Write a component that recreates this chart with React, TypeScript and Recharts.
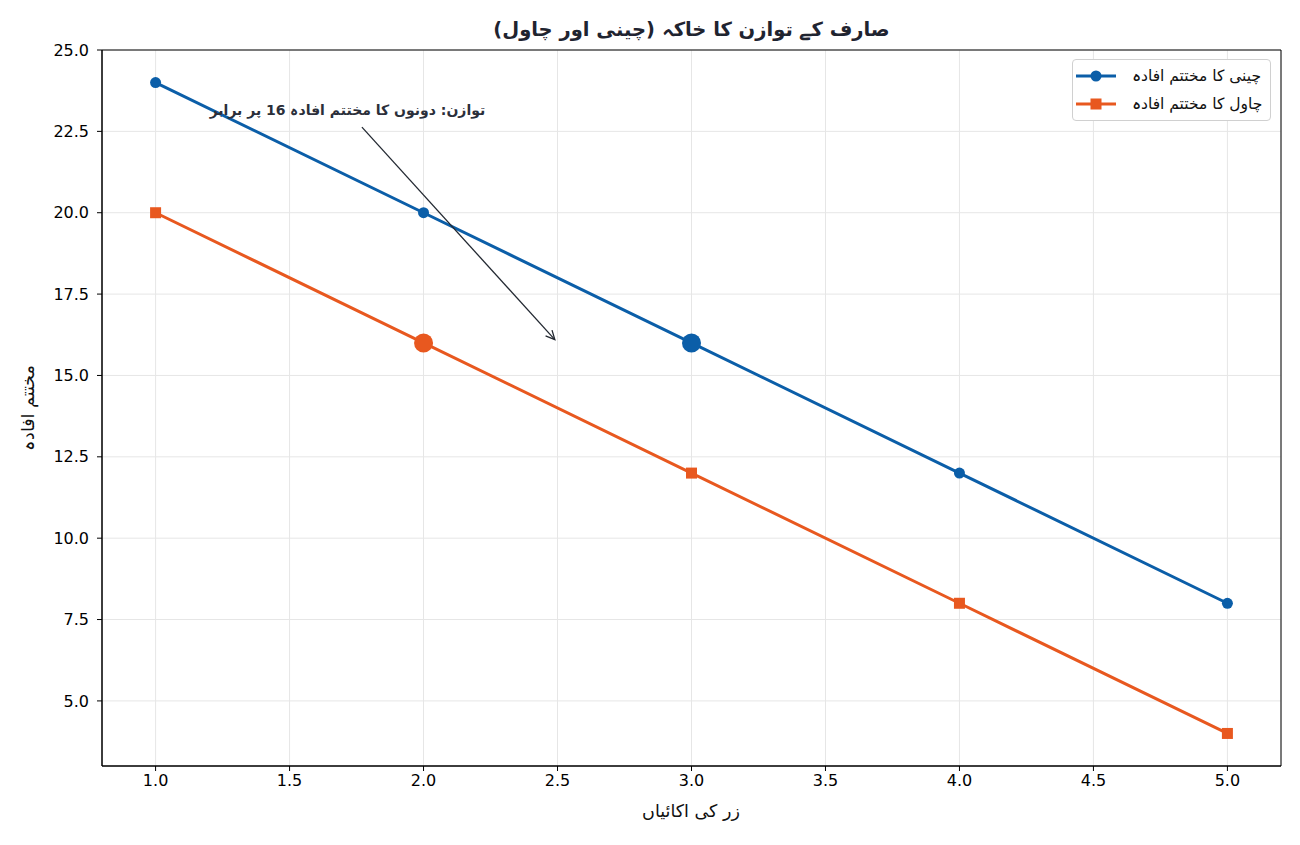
import {
  LineChart,
  Line,
  XAxis,
  YAxis,
  CartesianGrid,
  ReferenceLine,
  ReferenceDot,
  ReferenceArea,
} from 'recharts';

const units = [1, 2, 3, 4, 5];
const sugarMU = [24, 20, 16, 12, 8];
const riceMU = [20, 16, 12, 8, 4];
const xTicks = [1.0, 1.5, 2.0, 2.5, 3.0, 3.5, 4.0, 4.5, 5.0];
const yTicks = [5.0, 7.5, 10.0, 12.5, 15.0, 17.5, 20.0, 22.5, 25.0];
const sugarEq = { x: 3, y: 16 };
const riceEq = { x: 2, y: 16 };

const BLUE = '#0b5ea8';
const ORANGE = '#e8581f';
const FONT = '"DejaVu Sans", sans-serif';

const data = units.map((u, i) => ({ u, sugar: sugarMU[i], rice: riceMU[i] }));

const seriesInfo = [
  { name: 'چینی کا مختتم افادہ', color: BLUE, shape: 'circle' },
  { name: 'چاول کا مختتم افادہ', color: ORANGE, shape: 'square' },
];

function LegendBox() {
  return (
    <div
      style={{
        position: 'absolute',
        left: 1072,
        top: 59,
        width: 197,
        height: 60,
        boxSizing: 'content-box',
        background: '#fff',
        border: '1px solid #d0d0d0',
        borderRadius: 4,
        fontFamily: FONT,
        fontSize: 15.5,
        color: '#111',
      }}
    >
      {seriesInfo.map((s, i) => (
        <div
          key={s.name}
          style={{ position: 'absolute', left: 3, top: 3 + i * 28, height: 26, display: 'flex', alignItems: 'center' }}
        >
          <svg width={40} height={14} style={{ marginRight: 16 }}>
            <line x1={0} y1={7} x2={40} y2={7} stroke={s.color} strokeWidth={3} />
            {s.shape === 'circle' ? (
              <circle cx={20} cy={7} r={5.5} fill={s.color} />
            ) : (
              <rect x={14.5} y={1.5} width={11} height={11} fill={s.color} />
            )}
          </svg>
          <span dir="rtl">{s.name}</span>
        </div>
      ))}
    </div>
  );
}

const SquareDot = (props: any) => {
  const { cx, cy } = props;
  return <rect x={cx - 5.5} y={cy - 5.5} width={11} height={11} fill={ORANGE} />;
};

const ArrowShape = (props: any) => {
  const { x1, y1, x2, y2 } = props;
  if (x1 == null) return null;
  const ang = Math.atan2(y2 - y1, x2 - x1);
  const len = 10;
  const a1 = ang + Math.PI - 0.45;
  const a2 = ang + Math.PI + 0.45;
  return (
    <g>
      <line x1={x1} y1={y1} x2={x2} y2={y2} stroke="#222831" strokeWidth={1.3} />
      <polyline
        points={`${x2 + len * Math.cos(a1)},${y2 + len * Math.sin(a1)} ${x2},${y2} ${x2 + len * Math.cos(a2)},${y2 + len * Math.sin(a2)}`}
        fill="none"
        stroke="#222831"
        strokeWidth={1.3}
      />
    </g>
  );
};

const AnnotText = (props: any) => (
  <text
    x={props.cx}
    y={props.cy}
    textAnchor="middle"
    dominantBaseline="central"
    fontFamily={FONT}
    fontSize={14}
    fontWeight={700}
    fill="#2b2f3a"
  >
    توازن: دونوں کا مختتم افادہ 16 پر برابر
  </text>
);

const tickStyle = { fill: '#000', fontSize: 16, fontFamily: FONT };

export default function App() {
  return (
    <div style={{ position: 'absolute', left: 0, top: 0, width: 1300, height: 845, background: '#fff' }}>
      <div
        style={{
          position: 'absolute',
          left: 102,
          width: 1179,
          top: 18,
          textAlign: 'center',
          fontFamily: FONT,
          fontSize: 19.5,
          fontWeight: 700,
          color: '#1f2430',
        }}
        dir="rtl"
      >
        صارف کے توازن کا خاکہ (چینی اور چاول)
      </div>
      <div
        style={{
          position: 'absolute',
          left: 591,
          width: 200,
          top: 801,
          textAlign: 'center',
          fontFamily: FONT,
          fontSize: 17.5,
          color: '#111',
        }}
        dir="rtl"
      >
        زر کی اکائیاں
      </div>
      <LineChart
        width={1300}
        height={845}
        data={data}
        margin={{ top: 50, right: 19, left: 42, bottom: 39 }}
      >
        <CartesianGrid stroke="#e6e6e6" strokeWidth={1} />
        <XAxis
          dataKey="u"
          type="number"
          domain={[0.8, 5.2]}
          ticks={xTicks}
          tickFormatter={(v: number) => v.toFixed(1)}
          height={40}
          axisLine={{ stroke: '#000' }}
          tickLine={{ stroke: '#000' }}
          tickSize={5}
          tickMargin={4}
          tick={tickStyle}
          allowDataOverflow
        />
        <YAxis
          type="number"
          domain={[3, 25]}
          ticks={yTicks}
          tickFormatter={(v: number) => v.toFixed(1)}
          width={60}
          axisLine={{ stroke: '#000' }}
          tickLine={{ stroke: '#000' }}
          tickSize={5}
          tickMargin={8}
          tick={tickStyle}
          allowDataOverflow
        />
        <ReferenceArea x1={0.8} x2={5.2} y1={3} y2={25} fill="none" stroke="#000" strokeWidth={1} ifOverflow="visible" />
        <Line
          dataKey="sugar"
          name={seriesInfo[0].name}
          stroke={BLUE}
          strokeWidth={3}
          dot={{ r: 5.5, fill: BLUE, stroke: BLUE, strokeWidth: 0 }}
          activeDot={false}
          isAnimationActive={false}
        />
        <Line
          dataKey="rice"
          name={seriesInfo[1].name}
          stroke={ORANGE}
          strokeWidth={3}
          dot={<SquareDot />}
          activeDot={false}
          isAnimationActive={false}
        />
        <ReferenceDot x={sugarEq.x} y={sugarEq.y} r={9.5} fill={BLUE} stroke="none" />
        <ReferenceDot x={riceEq.x} y={riceEq.y} r={9.5} fill={ORANGE} stroke="none" />
        <ReferenceLine
          segment={[
            { x: 1.77, y: 22.63 },
            { x: 2.49, y: 16.1 },
          ]}
          shape={<ArrowShape />}
          ifOverflow="visible"
        />
        <ReferenceDot x={1.716} y={23.16} r={0} shape={<AnnotText />} ifOverflow="visible" />
      </LineChart>
      <svg style={{ position: 'absolute', left: 0, top: 0 }} width={60} height={845}>
        <text
          x={0}
          y={0}
          transform="translate(28,408) rotate(-90)"
          textAnchor="middle"
          dominantBaseline="central"
          fontFamily={FONT}
          fontSize={17.5}
          fill="#111"
        >
          مختتم افادہ
        </text>
      </svg>
      <LegendBox />
    </div>
  );
}
